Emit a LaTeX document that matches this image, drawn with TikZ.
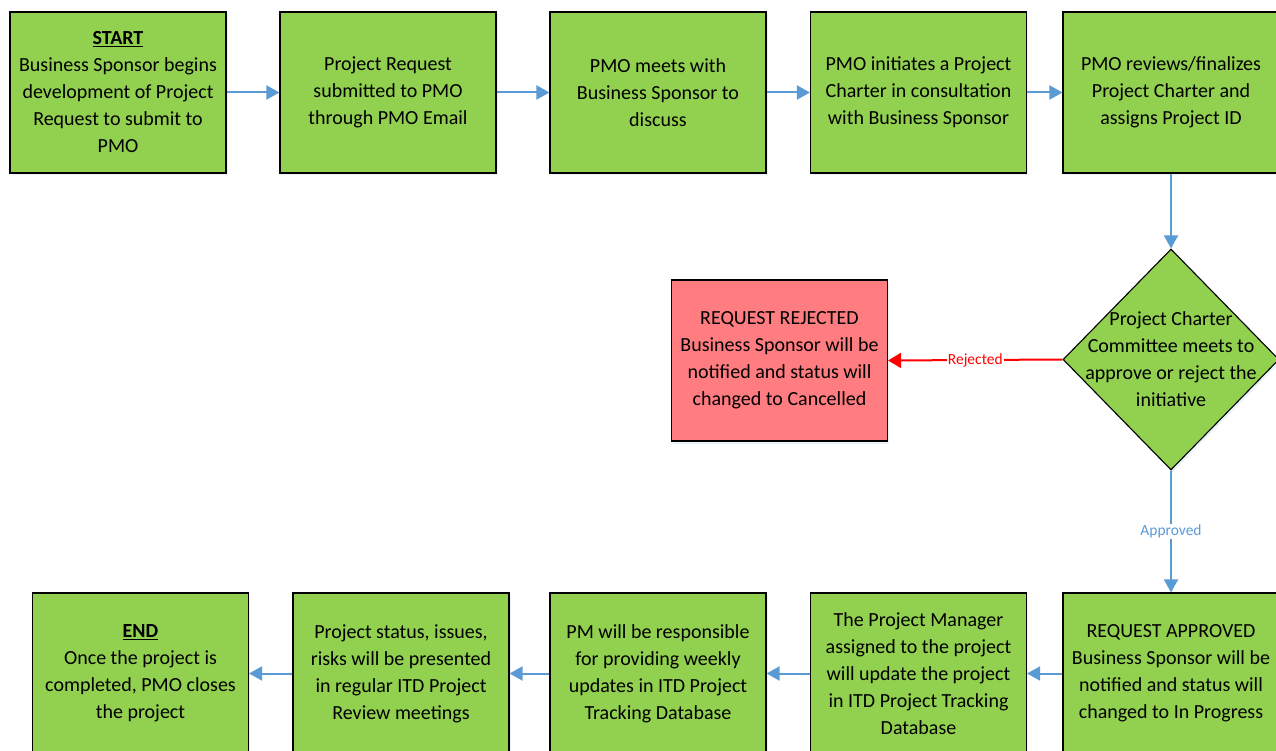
\documentclass[tikz,border=0pt]{standalone}
\usepackage{fontspec}
\setmainfont{Carlito}
\usetikzlibrary{arrows.meta,shapes.geometric,shadows}
\definecolor{boxgreen}{HTML}{92D050}
\definecolor{boxred}{HTML}{FF7C80}
\definecolor{flowblue}{HTML}{5B9BD5}
\definecolor{flowred}{HTML}{FF0000}
\tikzset{
  stepbox/.style={draw=black, line width=1.1pt, fill=boxgreen, minimum width=216pt, minimum height=161pt, inner sep=0pt, align=center, font=\fontsize{20}{27}\selectfont, drop shadow={opacity=0.12, shadow xshift=1.5pt, shadow yshift=-2.5pt, fill=flowblue}},
  rejbox/.style={stepbox, fill=boxred},
  decbox/.style={draw=black, line width=1.1pt, fill=boxgreen, diamond, minimum width=216pt, minimum height=221pt, inner sep=0pt, drop shadow={opacity=0.12, shadow xshift=1.5pt, shadow yshift=-2.5pt, fill=flowblue}},
  dectext/.style={align=center, font=\fontsize{20}{27}\selectfont, inner sep=0pt},
  flow/.style={draw=flowblue, line width=2pt, -{Triangle[length=13pt,width=14pt]}},
  rflow/.style={draw=flowred, line width=2pt, -{Triangle[length=13pt,width=15pt]}},
  lbl/.style={fill=white, inner sep=1pt, font=\fontsize{15.5}{18}\selectfont}
}
\begin{document}
\begin{tikzpicture}[x=1pt,y=-1pt]
\useasboundingbox (0,0) rectangle (1276,751);
% top row
\node[stepbox] (t1) at (118,92.5) {\underline{\textbf{START}}\\Business Sponsor begins\\development of Project\\Request to submit to\\PMO};
\node[stepbox] (t2) at (388,92.5) {Project Request\\submitted to PMO\\through PMO Email};
\node[stepbox] (t3) at (658,92.5) {PMO meets with\\Business Sponsor to\\discuss};
\node[stepbox] (t4) at (918.5,92.5) {PMO initiates a Project\\Charter in consultation\\with Business Sponsor};
\node[stepbox] (t5) at (1171,92.5) {PMO reviews/finalizes\\Project Charter and\\assigns Project ID};
% decision
\node[decbox] (dia) at (1171,359.5) {};
\node[dectext] (diat) at (dia.center) {Project Charter\\Committee meets to\\approve or reject the\\initiative};
\node[rejbox] (rej) at (779.5,360.5) {REQUEST REJECTED\\Business Sponsor will be\\notified and status will\\changed to Cancelled};
% bottom row
\node[stepbox] (b5) at (1171,673.5) {REQUEST APPROVED\\Business Sponsor will be\\notified and status will\\changed to In Progress};
\node[stepbox] (b4) at (918.5,673.5) {The Project Manager\\assigned to the project\\will update the project\\in ITD Project Tracking\\Database};
\node[stepbox] (b3) at (658,673.5) {PM will be responsible\\for providing weekly\\updates in ITD Project\\Tracking Database};
\node[stepbox] (b2) at (401,673.5) {Project status, issues,\\risks will be presented\\in regular ITD Project\\Review meetings};
\node[stepbox] (b1) at (140.5,673.5) {\underline{\textbf{END}}\\Once the project is\\completed, PMO closes\\the project};
% connectors
\draw[flow] (t1) -- (t2);
\draw[flow] (t2) -- (t3);
\draw[flow] (t3) -- (t4);
\draw[flow] (t4) -- (t5);
\draw[flow] (t5.south) -- (dia.north);
\draw[rflow] (dia.west) -- node[lbl, text=flowred] {Rejected} (rej.east);
\draw[flow] (dia.south) -- node[lbl, text=flowblue, pos=0.5] {Approved} (b5.north);
\draw[flow] (b5) -- (b4);
\draw[flow] (b4) -- (b3);
\draw[flow] (b3) -- (b2);
\draw[flow] (b2) -- (b1);
\end{tikzpicture}
\end{document}
